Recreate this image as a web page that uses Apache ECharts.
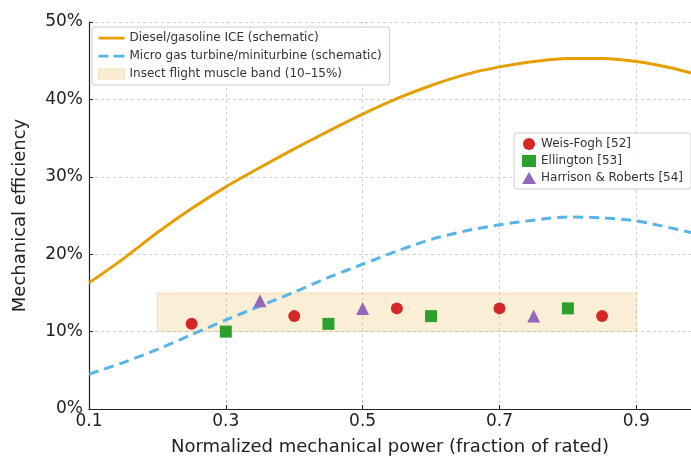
<!DOCTYPE html>
<html>
<head>
<meta charset="utf-8">
<script src="https://cdn.jsdelivr.net/npm/echarts@6/dist/echarts.min.js"></script>
<style>
  html, body { margin: 0; padding: 0; background: #fff; }
  #chart { width: 691px; height: 461px; }
</style>
</head>
<body>
<div id="chart"></div>
<script>
// curves (x = normalized power, y = efficiency %)
var curveX = [0.1, 0.15, 0.2, 0.25, 0.3, 0.35, 0.4, 0.45, 0.5, 0.55,
              0.6, 0.65, 0.7, 0.75, 0.8, 0.85, 0.9, 0.95, 0.98];
var dieselY = [16.3, 19.4, 22.8, 25.9, 28.7, 31.2, 33.6, 35.9, 38.1, 40.1,
               41.8, 43.2, 44.2, 44.9, 45.3, 45.3, 44.9, 44.1, 43.4];
var turbineY = [4.5, 6.0, 7.7, 9.6, 11.5, 13.3, 15.1, 17.0, 18.7, 20.4,
                21.9, 23.0, 23.8, 24.4, 24.8, 24.7, 24.3, 23.4, 22.8];

// insect flight muscle band
var bandX = [0.2, 0.9];
var bandY = [10, 15];

// measurements
var weisX = [0.25, 0.4, 0.55, 0.7, 0.85];
var weisY = [11, 12, 13, 13, 12];
var ellX = [0.3, 0.45, 0.6, 0.8];
var ellY = [10, 11, 12, 13];
var harX = [0.35, 0.5, 0.75];
var harY = [14, 13, 12];

var xTicks = [0.1, 0.3, 0.5, 0.7, 0.9];
var yTicks = [0, 10, 20, 30, 40, 50];

var names = {
    diesel: 'Diesel/gasoline ICE (schematic)',
    turbine: 'Micro gas turbine/miniturbine (schematic)',
    band: 'Insect flight muscle band (10\u201315%)',
    weis: 'Weis-Fogh [52]',
    ell: 'Ellington [53]',
    har: 'Harrison & Roberts [54]'
};

function zip(xs, ys) {
    var out = [];
    for (var i = 0; i < xs.length; i++) out.push([xs[i], ys[i]]);
    return out;
}

// legend glyphs: a plain line and a dashed line (tiny dots keep the box 26x10)
var solidIcon = 'path://M0,0 L0.01,0 Z M0,3.8 L26,3.8 L26,6.4 L0,6.4 Z M0,10 L0.01,10 Z';
var dashIcon = 'path://M0,0 L0.01,0 Z M0,3.8 L10,3.8 L10,6.4 L0,6.4 Z M15,3.8 L26,3.8 L26,6.4 L15,6.4 Z M0,10 L0.01,10 Z';

var font = 'DejaVu Sans';
var chart = echarts.init(document.getElementById('chart'));

var option = {
    animation: false,
    textStyle: { fontFamily: font },
    grid: { left: 89, right: 0, top: 22, bottom: 51 },
    legend: [
        {
            orient: 'vertical',
            left: 92, top: 27,
            itemWidth: 26, itemHeight: 10, itemGap: 6,
            padding: [5, 8, 5, 6],
            backgroundColor: 'rgba(255,255,255,0.85)',
            borderColor: '#cccccc', borderWidth: 1, borderRadius: 3,
            textStyle: { fontFamily: font, fontSize: 12, color: '#333' },
            data: [
                { name: names.diesel, icon: solidIcon },
                { name: names.turbine, icon: dashIcon },
                { name: names.band, icon: 'rect',
                  itemStyle: { color: '#f9eed5', borderColor: '#f3dfb5', borderWidth: 1 } }
            ]
        },
        {
            orient: 'vertical',
            left: 514, top: 133,
            itemWidth: 14, itemHeight: 12, itemGap: 5,
            padding: [5, 8, 5, 8],
            backgroundColor: 'rgba(255,255,255,0.85)',
            borderColor: '#cccccc', borderWidth: 1, borderRadius: 3,
            textStyle: { fontFamily: font, fontSize: 12, color: '#333' },
            data: [
                { name: names.weis, icon: 'circle' },
                { name: names.ell, icon: 'rect' },
                { name: names.har, icon: 'triangle' }
            ]
        }
    ],
    xAxis: {
        type: 'value',
        min: xTicks[0], max: 0.98, interval: 0.2,
        name: 'Normalized mechanical power (fraction of rated)',
        nameLocation: 'middle', nameGap: 29,
        nameTextStyle: { fontFamily: font, fontSize: 18, color: '#222' },
        axisLine: { lineStyle: { color: '#222', width: 1.2 } },
        axisTick: { inside: true, length: 4, lineStyle: { color: '#222' } },
        axisLabel: { fontFamily: font, fontSize: 17, color: '#222', margin: 4, showMaxLabel: false,
            formatter: function (v) { return (Math.round(v * 10) / 10).toString(); } },
        splitLine: { show: true, lineStyle: { color: '#cfcfcf', type: [3, 3] } }
    },
    yAxis: {
        type: 'value',
        min: yTicks[0], max: yTicks[yTicks.length - 1], interval: 10,
        name: 'Mechanical efficiency',
        nameLocation: 'middle', nameGap: 60,
        nameTextStyle: { fontFamily: font, fontSize: 18, color: '#222' },
        axisLine: { show: true, lineStyle: { color: '#222', width: 1.2 } },
        axisTick: { show: true, inside: true, length: 4, lineStyle: { color: '#222' } },
        axisLabel: { fontFamily: font, fontSize: 17, color: '#222', margin: 6, formatter: '{value}%' },
        splitLine: { show: true, lineStyle: { color: '#cfcfcf', type: [3, 3] } }
    },
    series: [
        {
            name: names.band,
            type: 'line',
            data: [],
            itemStyle: { color: '#f9eed5' },
            markArea: {
                silent: true,
                itemStyle: { color: 'rgba(240,200,120,0.3)', borderColor: 'rgba(230,180,90,0.35)', borderWidth: 1 },
                data: [[{ coord: [bandX[0], bandY[0]] }, { coord: [bandX[1], bandY[1]] }]]
            }
        },
        {
            name: names.diesel,
            type: 'line',
            smooth: 0.3,
            symbol: 'none',
            data: zip(curveX, dieselY),
            itemStyle: { color: '#E69F00' },
            lineStyle: { color: '#E69F00', width: 3 }
        },
        {
            name: names.turbine,
            type: 'line',
            smooth: 0.3,
            symbol: 'none',
            data: zip(curveX, turbineY),
            itemStyle: { color: '#56B4E9' },
            lineStyle: { color: '#56B4E9', width: 3, type: [10, 6] }
        },
        {
            name: names.weis,
            type: 'scatter',
            symbol: 'circle', symbolSize: 12,
            itemStyle: { color: '#d62728', opacity: 1 },
            data: zip(weisX, weisY),
            z: 5
        },
        {
            name: names.ell,
            type: 'scatter',
            symbol: 'rect', symbolSize: 12,
            itemStyle: { color: '#2ca02c', opacity: 1 },
            data: zip(ellX, ellY),
            z: 5
        },
        {
            name: names.har,
            type: 'scatter',
            symbol: 'triangle', symbolSize: 13,
            itemStyle: { color: '#9467bd', opacity: 1 },
            data: zip(harX, harY),
            z: 5
        }
    ]
};

chart.setOption(option);
</script>
</body>
</html>
